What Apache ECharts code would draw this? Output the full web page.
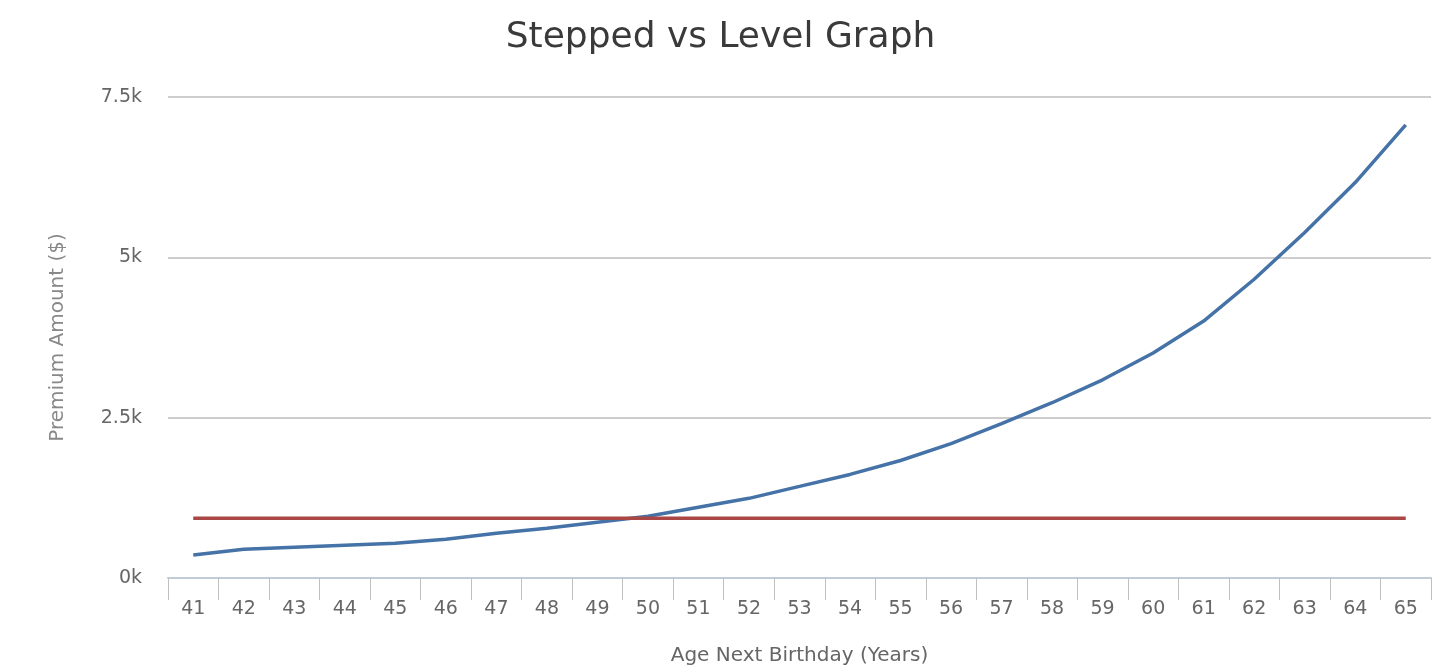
<!DOCTYPE html>
<html>
<head>
<meta charset="utf-8">
<script src="https://cdn.jsdelivr.net/npm/echarts@6/dist/echarts.min.js"></script>
<style>
html,body{margin:0;padding:0;background:#fff;}
#chart{width:1441px;height:671px;}
</style>
</head>
<body>
<div id="chart"></div>
<script>
const ages = ['41','42','43','44','45','46','47','48','49','50','51','52','53','54','55','56','57','58','59','60','61','62','63','64','65'];
const stepped = [357,450,481,512,543,605,699,776,870,963,1102,1242,1428,1615,1832,2096,2407,2733,3090,3509,4006,4658,5388,6165,7065];
const level = [930,930,930,930,930,930,930,930,930,930,930,930,930,930,930,930,930,930,930,930,930,930,930,930,930];
const yTicks = [0,2500,5000,7500];

const chart = echarts.init(document.getElementById('chart'));
chart.setOption({
  animation:false,
  title:{
    text:'Stepped vs Level Graph',
    left:'center', top:15,
    textStyle:{fontFamily:'DejaVu Sans', fontSize:36, fontWeight:'normal', color:'#3a3a3a'}
  },
  grid:{left:168, right:10, top:97, bottom:91},
  xAxis:{
    type:'category', data:ages, boundaryGap:true,
    name:'Age Next Birthday (Years)', nameLocation:'middle', nameGap:68,
    nameTextStyle:{fontFamily:'DejaVu Sans', fontSize:20, color:'#666'},
    axisLine:{lineStyle:{color:'#c0ccd8', width:2}},
    axisTick:{show:true, length:22, alignWithLabel:false, lineStyle:{color:'#c0c0c0', width:1}},
    axisLabel:{fontFamily:'DejaVu Sans', fontSize:19, color:'#666', margin:22, interval:0}
  },
  yAxis:{
    type:'value', min:0, max:7500, interval:2500,
    name:'Premium Amount ($)', nameLocation:'middle', nameGap:100,
    nameTextStyle:{fontFamily:'DejaVu Sans', fontSize:20, color:'#888'},
    axisLine:{show:false}, axisTick:{show:false},
    axisLabel:{fontFamily:'DejaVu Sans', fontSize:19, color:'#666', margin:26,
      formatter:function(v){ return yTicks.indexOf(v)>=0 ? (v/1000)+'k' : ''; }},
    splitLine:{lineStyle:{color:'#bdbdbd', width:1.5}}
  },
  series:[
    {name:'Stepped', type:'line', data:stepped, showSymbol:false, smooth:false,
     lineStyle:{color:'#4572A7', width:3.5}, itemStyle:{color:'#4572A7'}},
    {name:'Level', type:'line', data:level, showSymbol:false,
     lineStyle:{color:'#AA4643', width:3.5}, itemStyle:{color:'#AA4643'}}
  ]
});
</script>
</body>
</html>
